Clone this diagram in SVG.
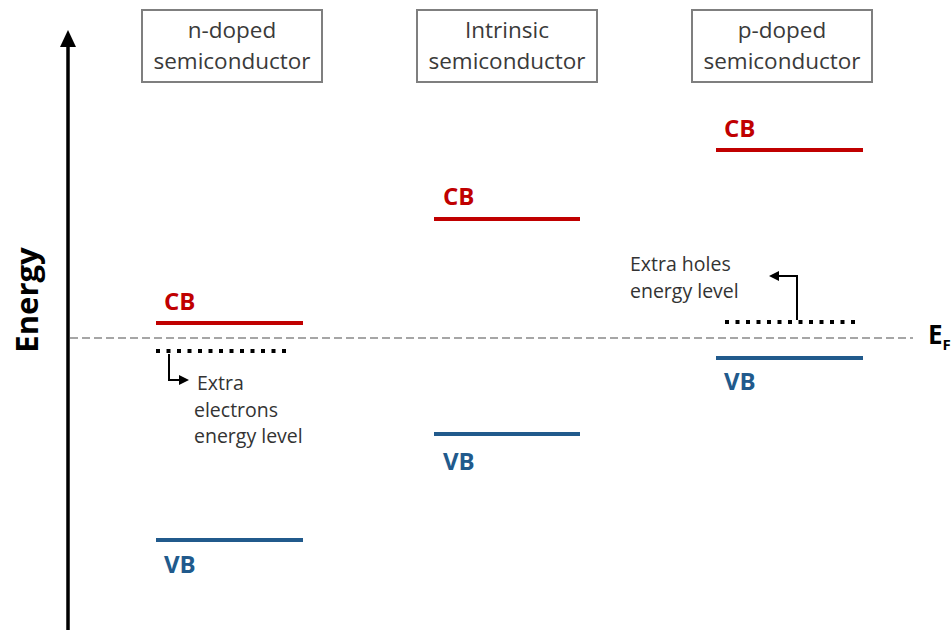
<svg xmlns="http://www.w3.org/2000/svg" width="952" height="630" viewBox="0 0 952 630">
<style>
.box{fill:#fff;stroke:#7f7f7f;stroke-width:2}
.bt{font-family:"Open Sans","Liberation Sans",sans-serif;font-size:22.5px;fill:#3a3a3a;text-anchor:middle}
.cb{stroke:#c00000;stroke-width:4;fill:none}
.vb{stroke:#215a8c;stroke-width:4;fill:none}
.cbt{font-family:"Open Sans","Liberation Sans",sans-serif;font-size:24px;font-weight:bold;fill:#c00000}
.vbt{font-family:"Open Sans","Liberation Sans",sans-serif;font-size:24px;font-weight:bold;fill:#215a8c}
.dot{stroke:#000;stroke-width:4;stroke-dasharray:4 6.5;fill:none}
.ann{font-family:"Open Sans","Liberation Sans",sans-serif;font-size:19.5px;fill:#333}
.ar{stroke:#000;stroke-width:2;fill:none}
</style>
<defs>
<marker id="ah" markerWidth="10" markerHeight="10" refX="7" refY="5" orient="auto" markerUnits="userSpaceOnUse">
<path d="M0,0 L10,5 L0,10 Z" fill="#000"/>
</marker>
</defs>

<g id="axis">
<line x1="68" y1="630" x2="68" y2="44" stroke="#000" stroke-width="3.5"/>
<path d="M60,47 L68,30 L76,47 Z" fill="#000"/>
<text transform="translate(38,300) rotate(-90)" font-family="Open Sans, Liberation Sans, sans-serif" font-size="31" font-weight="bold" text-anchor="middle" fill="#000">Energy</text>
</g>

<g id="fermi">
<line x1="70" y1="338" x2="913" y2="338" stroke="#a6a6a6" stroke-width="2" stroke-dasharray="8 4"/>
<text x="928" y="344" font-family="Open Sans, Liberation Sans, sans-serif" font-size="26" font-weight="bold" fill="#000">E<tspan font-size="15" dy="6">F</tspan></text>
</g>

<g id="box-n">
<rect class="box" x="142" y="10" width="180" height="72"/>
<text class="bt" x="232" y="38">n-doped</text>
<text class="bt" x="232" y="69">semiconductor</text>
</g>
<g id="box-i">
<rect class="box" x="417" y="10" width="180" height="72"/>
<text class="bt" x="507" y="38">Intrinsic</text>
<text class="bt" x="507" y="69">semiconductor</text>
</g>
<g id="box-p">
<rect class="box" x="692" y="10" width="180" height="72"/>
<text class="bt" x="782" y="38">p-doped</text>
<text class="bt" x="782" y="69">semiconductor</text>
</g>

<g id="n-doped">
<text class="cbt" x="164" y="310">CB</text>
<line class="cb" x1="156" y1="323" x2="303" y2="323"/>
<line class="dot" x1="156" y1="351" x2="288" y2="351"/>
<line class="vb" x1="156" y1="540" x2="303" y2="540"/>
<text class="vbt" x="164" y="573">VB</text>
<text class="ann" x="197" y="390">Extra</text>
<text class="ann" x="194" y="417">electrons</text>
<text class="ann" x="194" y="443">energy level</text>
</g>

<g id="intrinsic">
<text class="cbt" x="443" y="205">CB</text>
<line class="cb" x1="434" y1="219" x2="580" y2="219"/>
<line class="vb" x1="434" y1="434" x2="580" y2="434"/>
<text class="vbt" x="443" y="470">VB</text>
</g>

<g id="p-doped">
<text class="cbt" x="724" y="137">CB</text>
<line class="cb" x1="716" y1="150" x2="863" y2="150"/>
<line class="dot" x1="725" y1="322" x2="857" y2="322"/>
<line class="vb" x1="716" y1="358" x2="863" y2="358"/>
<text class="vbt" x="724" y="390">VB</text>
<text class="ann" x="630" y="271">Extra holes</text>
<text class="ann" x="630" y="298">energy level</text>
</g>

<g id="connectors">
<path class="ar" d="M169,354 V380 H186" marker-end="url(#ah)"/>
<path class="ar" d="M797,320 V276 H772" marker-end="url(#ah)"/>
</g>
</svg>
